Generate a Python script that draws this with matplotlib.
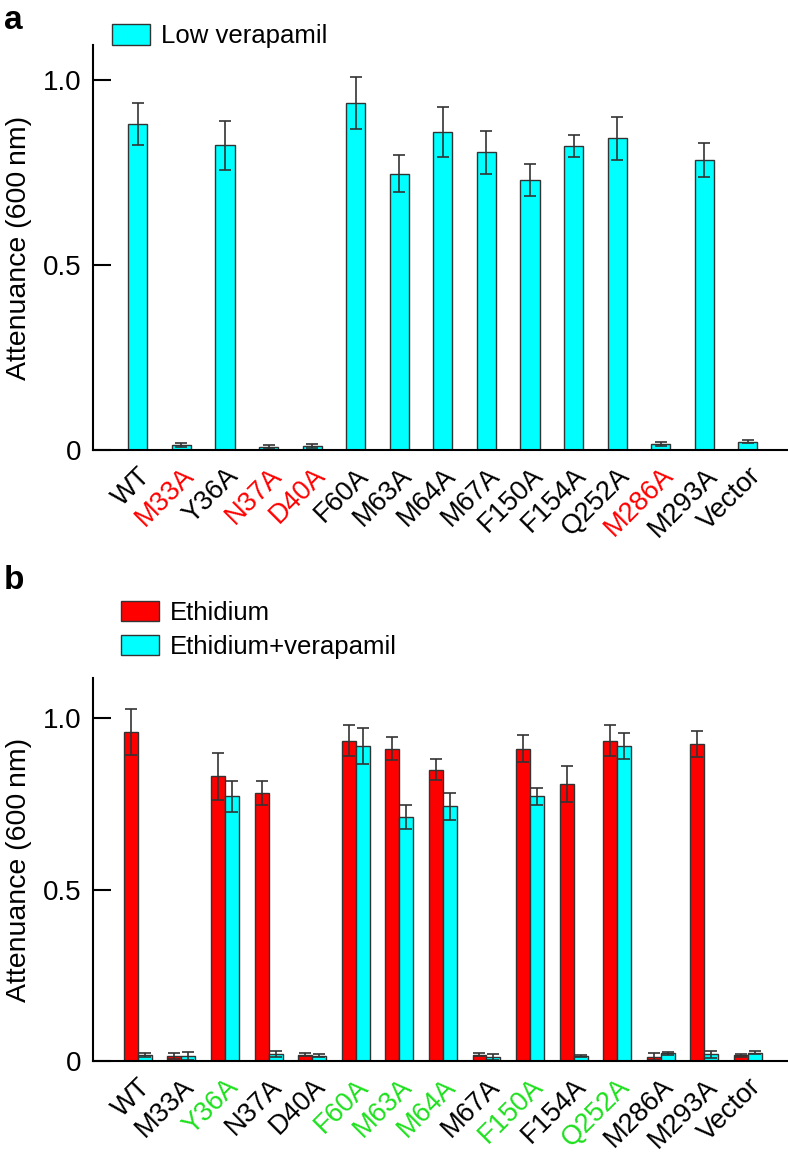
import numpy as np
import matplotlib
matplotlib.use("Agg")
import matplotlib.pyplot as plt

plt.rcParams['font.family'] = ['Liberation Sans', 'DejaVu Sans']

mutants = ['WT', 'M33A', 'Y36A', 'N37A', 'D40A', 'F60A', 'M63A', 'M64A',
           'M67A', 'F150A', 'F154A', 'Q252A', 'M286A', 'M293A', 'Vector']

# panel a: low verapamil
low_vera = [0.881, 0.014, 0.824, 0.009, 0.011, 0.938, 0.748, 0.860,
            0.805, 0.730, 0.822, 0.844, 0.017, 0.785, 0.023]
low_vera_err = [0.057, 0.006, 0.066, 0.005, 0.006, 0.070, 0.050, 0.068,
                0.059, 0.044, 0.029, 0.058, 0.005, 0.047, 0.003]
colors_a = ['black', 'red', 'black', 'red', 'red', 'black', 'black', 'black',
            'black', 'black', 'black', 'black', 'red', 'black', 'black']

# panel b: ethidium / ethidium + verapamil
eth = [0.960, 0.014, 0.831, 0.783, 0.018, 0.934, 0.911, 0.850,
       0.018, 0.911, 0.808, 0.934, 0.013, 0.924, 0.017]
eth_err = [0.067, 0.008, 0.068, 0.035, 0.004, 0.045, 0.033, 0.031,
           0.004, 0.040, 0.052, 0.045, 0.009, 0.038, 0.004]
eth_vera = [0.018, 0.014, 0.773, 0.021, 0.015, 0.920, 0.711, 0.743,
            0.011, 0.773, 0.014, 0.920, 0.022, 0.020, 0.024]
eth_vera_err = [0.005, 0.011, 0.045, 0.008, 0.004, 0.053, 0.035, 0.039,
                0.008, 0.025, 0.003, 0.038, 0.004, 0.010, 0.004]
colors_b = ['black', 'black', 'green', 'black', 'black', 'green', 'green', 'green',
            'black', 'green', 'black', 'green', 'black', 'black', 'black']

CYAN = '#00FFFF'
RED = '#FF0000'
GREEN = '#1EE01E'
EDGE = '#333333'
colmap = {'black': 'black', 'red': RED, 'green': GREEN}

fig = plt.figure(figsize=(7.88, 11.53), dpi=100)
ax_a = fig.add_axes([0.118, 0.6097, 0.882, 0.351])
ax_b = fig.add_axes([0.118, 0.0798, 0.882, 0.332])

x = np.arange(len(mutants))
ekw = dict(ecolor='#333333', elinewidth=1.2, capsize=4.5, capthick=1.2)

ax_a.bar(x, low_vera, width=0.44, color=CYAN, edgecolor=EDGE, linewidth=1,
         yerr=low_vera_err, error_kw=ekw, label='Low verapamil')

w = 0.32
ax_b.bar(x - w / 2, eth, width=w, color=RED, edgecolor=EDGE, linewidth=1,
         yerr=eth_err, error_kw=ekw, label='Ethidium')
ax_b.bar(x + w / 2, eth_vera, width=w, color=CYAN, edgecolor=EDGE, linewidth=1,
         yerr=eth_vera_err, error_kw=ekw, label='Ethidium+verapamil')

for ax, cols, ytop in [(ax_a, colors_a, 1.095), (ax_b, colors_b, 1.117)]:
    ax.set_xlim(-1.03, 14.92)
    ax.set_ylim(0, ytop)
    ax.spines['top'].set_visible(False)
    ax.spines['right'].set_visible(False)
    ax.spines['left'].set_linewidth(1.5)
    ax.spines['bottom'].set_linewidth(1.5)
    ax.set_yticks([0, 0.5, 1.0])
    ax.set_yticklabels(['0', '0.5', '1.0'])
    ax.tick_params(axis='y', direction='in', length=13, width=1.5,
                   labelsize=20, pad=8)
    ax.set_xticks(x)
    ax.set_xticklabels(mutants, rotation=45, ha='right', va='top',
                       rotation_mode='anchor')
    ax.tick_params(axis='x', length=0, labelsize=19.5, pad=9)
    for lab, c in zip(ax.get_xticklabels(), cols):
        lab.set_color(colmap[c])
    ax.set_ylabel('Attenuance (600\u2009nm)', fontsize=20.5, labelpad=8)

leg_kw = dict(frameon=False, fontsize=18.5, handlelength=1.48,
              handleheight=0.86, handletextpad=0.45, borderaxespad=0,
              borderpad=0, bbox_transform=fig.transFigure, loc='upper left')
ax_a.legend(bbox_to_anchor=(0.142, 0.979), **leg_kw)
ax_b.legend(bbox_to_anchor=(0.153, 0.479), labelspacing=0.38, **leg_kw)

fig.text(0.005, 0.996, 'a', fontsize=24, fontweight='bold', va='top')
fig.text(0.005, 0.51, 'b', fontsize=24, fontweight='bold', va='top')

fig.savefig('out.png', dpi=100)
